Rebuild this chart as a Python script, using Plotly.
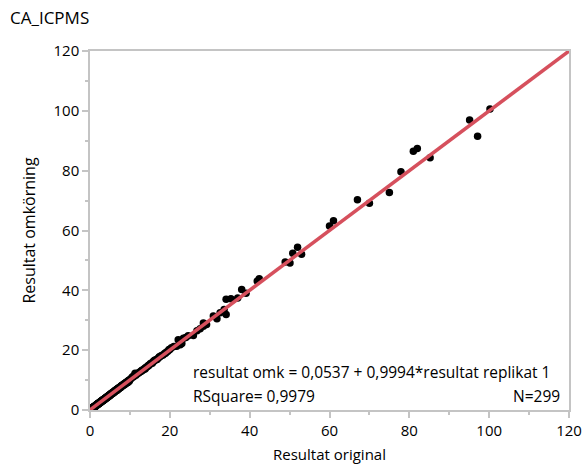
import plotly.graph_objects as go

# Original vs re-run results (CA, ICP-MS)
orig_low = [
    0.2, 0.25, 0.3, 0.3, 0.35, 0.4, 0.4, 0.45, 0.5, 0.5,
    0.55, 0.6, 0.6, 0.65, 0.7, 0.7, 0.75, 0.8, 0.8, 0.85,
    0.9, 0.9, 0.95, 1.0, 1.0, 1.05, 1.1, 1.1, 1.15, 1.2,
    1.2, 1.25, 1.3, 1.3, 1.35, 1.4, 1.4, 1.45, 1.5, 1.5,
    1.55, 1.6, 1.6, 1.65, 1.7, 1.7, 1.75, 1.8, 1.8, 1.85,
    1.9, 1.9, 1.95, 2.0, 2.0, 0.15, 0.5, 1.0, 1.5, 1.95,
    0.6, 1.3, 1.7, 2.0,
]
omk_low = [
    0.3, 0.2, 0.4, 0.25, 0.35, 0.5, 0.35, 0.4, 0.6, 0.45,
    0.5, 0.7, 0.55, 0.6, 0.8, 0.65, 0.7, 0.9, 0.75, 0.8,
    1.0, 0.85, 0.9, 1.1, 0.95, 1.0, 1.2, 1.05, 1.1, 1.3,
    1.15, 1.2, 1.4, 1.25, 1.3, 1.5, 1.35, 1.4, 1.6, 1.45,
    1.5, 1.7, 1.55, 1.6, 1.8, 1.65, 1.7, 1.9, 1.75, 1.8,
    2.0, 1.85, 1.9, 2.1, 1.95, 0.1, 0.6, 1.2, 1.3, 2.1,
    0.5, 1.2, 1.9, 2.2,
]

orig_mid = [
    2.1, 2.2, 2.3, 2.4, 2.5, 2.6, 2.7, 2.8, 2.9, 3.0,
    3.1, 3.2, 3.3, 3.4, 3.5, 3.6, 3.7, 3.8, 3.9, 4.0,
    4.1, 4.2, 4.3, 4.4, 4.5, 4.6, 4.7, 4.8, 4.9, 5.0,
    2.1, 2.2, 2.3, 2.4, 2.5, 2.6, 2.7, 2.8, 2.9, 3.0,
    3.1, 3.2, 3.3, 3.4, 3.5, 3.6, 3.7, 3.8, 3.9, 4.0,
    4.1, 4.2, 4.3, 4.4, 4.5, 4.6, 4.7, 4.8, 4.9, 5.0,
    2.15, 2.35, 2.55, 2.75, 2.95, 3.15, 3.35, 3.55, 3.75, 3.95,
    4.15, 4.35, 4.55, 4.75, 4.95, 2.45, 3.05, 3.65, 4.25, 4.85,
    5.1, 5.2, 5.3, 5.4, 5.5, 5.6, 5.7, 5.8, 5.9, 6.0,
    6.1, 6.2, 6.3, 6.4, 6.5, 6.6, 6.7, 6.8, 6.9, 7.0,
    7.1, 7.2, 7.3, 7.4, 7.5, 7.6, 7.7, 7.8, 7.9, 8.0,
    8.2, 8.4, 8.6, 8.8, 9.0, 9.2, 9.4, 9.6, 9.8, 10.0,
    5.25, 5.5, 5.75, 6.0, 6.25, 6.5, 6.75, 7.0, 7.25, 7.5,
    7.75, 8.0, 8.3, 8.6, 8.9, 9.2, 9.5, 9.8, 5.4, 6.3,
    7.1, 7.9, 8.5, 9.1, 9.7, 5.9, 6.8, 7.6, 8.1, 9.4,
]
omk_mid = [
    2.2, 2.3, 2.4, 2.6, 2.6, 2.7, 2.8, 3.0, 3.0, 3.1,
    3.2, 3.4, 3.4, 3.5, 3.6, 3.8, 3.8, 3.9, 4.0, 4.2,
    4.2, 4.3, 4.4, 4.6, 4.6, 4.7, 4.8, 5.0, 5.0, 5.1,
    2.0, 2.1, 2.2, 2.3, 2.4, 2.5, 2.6, 2.7, 2.8, 2.9,
    3.0, 3.1, 3.2, 3.3, 3.4, 3.5, 3.6, 3.7, 3.8, 3.9,
    4.0, 4.1, 4.2, 4.3, 4.4, 4.5, 4.6, 4.7, 4.8, 4.9,
    2.2, 2.4, 2.6, 2.8, 3.0, 3.2, 3.4, 3.6, 3.8, 4.0,
    4.2, 4.4, 4.6, 4.8, 5.0, 2.4, 3.1, 3.6, 4.3, 4.8,
    5.2, 5.4, 5.3, 5.5, 5.7, 5.6, 5.8, 6.0, 5.9, 6.1,
    6.3, 6.2, 6.4, 6.6, 6.5, 6.7, 6.9, 6.8, 7.0, 7.2,
    7.1, 7.3, 7.5, 7.4, 7.6, 7.8, 7.7, 7.9, 8.1, 8.0,
    8.3, 8.6, 8.5, 8.9, 9.2, 9.1, 9.5, 9.8, 9.7, 10.2,
    5.1, 5.4, 5.6, 5.9, 6.1, 6.4, 6.6, 6.9, 7.1, 7.4,
    7.6, 7.9, 8.2, 8.4, 8.8, 9.0, 9.3, 9.6, 5.6, 6.5,
    7.3, 8.1, 8.7, 9.3, 9.9, 5.8, 6.6, 7.5, 8.3, 9.2,
]

orig_upper = [
    10.3, 10.6, 10.9, 11.2, 11.3, 11.5, 11.8, 12.1, 12.4, 12.7,
    13.0, 13.3, 13.6, 13.9, 14.2, 14.5, 14.8, 15.1, 15.4, 15.6,
    15.9, 16.2, 16.5, 16.8, 17.1, 17.5, 17.9, 18.3, 18.7, 19.1,
    19.5, 19.8, 10.8, 11.6, 12.9, 13.8, 14.6, 16.0, 17.4, 18.9,
    20.0, 20.4, 21.0, 21.7, 22.1, 22.6, 23.0, 23.4, 24.0, 24.6,
    25.9, 26.8, 27.6, 28.4, 29.2, 28.4, 30.9, 31.8, 32.6, 33.6,
    34.1, 34.1, 35.3, 37.0, 38.0, 39.1, 41.9, 42.4, 48.9, 50.1,
    50.8, 52.0, 53.0, 60.0, 61.0, 67.0, 70.0, 75.0, 77.9, 81.0,
    82.0, 85.2, 95.1, 97.1, 100.2,
]
omk_upper = [
    10.5, 11.0, 11.1, 11.8, 12.3, 11.6, 12.2, 12.3, 12.6, 12.9,
    13.3, 13.4, 13.8, 14.1, 14.4, 14.6, 15.0, 15.5, 15.7, 15.6,
    16.2, 16.6, 16.8, 16.9, 17.4, 17.8, 18.2, 18.4, 18.9, 19.3,
    19.6, 20.2, 11.2, 12.0, 13.0, 13.7, 14.9, 16.4, 17.8, 19.0,
    20.2, 20.8, 21.2, 21.3, 23.5, 21.8, 22.2, 24.0, 24.2, 24.8,
    24.9, 26.5, 27.2, 29.1, 28.6, 28.0, 31.4, 30.5, 32.5, 33.6,
    31.9, 37.0, 37.2, 37.4, 40.3, 39.0, 43.1, 43.9, 49.5, 49.1,
    52.4, 54.4, 52.1, 61.5, 63.3, 70.3, 69.1, 72.7, 79.6, 86.5,
    87.4, 84.3, 96.9, 91.5, 100.6,
]

resultat_original = orig_low + orig_mid + orig_upper
resultat_omk = omk_low + omk_mid + omk_upper

# Linear fit reported for the data
intercept = 0.0537
slope = 0.9994
r_square = 0.9979
fit_x = [0, 120]
fit_y = [intercept + slope * v for v in fit_x]

x_ticks = [0, 20, 40, 60, 80, 100, 120]
y_ticks = [0, 20, 40, 60, 80, 100, 120]

FONT = "Open Sans"
AXIS_GRAY = "#c4c4c4"

fig = go.Figure()
fig.add_trace(go.Scatter(
    x=resultat_original, y=resultat_omk, mode="markers",
    marker=dict(color="black", size=7.5, line=dict(width=0)),
    showlegend=False,
))
fig.add_trace(go.Scatter(
    x=fit_x, y=fit_y, mode="lines",
    line=dict(color="#D6505D", width=3.5),
    showlegend=False,
))

def fmt(v, nd):
    return f"{v:.{nd}f}".replace(".", ",")

eq_text = f"resultat omk = {fmt(intercept, 4)} + {fmt(slope, 4)}*resultat replikat 1"
ann_font = dict(family=FONT, size=15.5, color="black")
fig.add_annotation(text=eq_text, xref="paper", yref="paper", x=0.211, y=0.106,
                   xanchor="left", yanchor="middle", showarrow=False, font=ann_font)
fig.add_annotation(text=f"RSquare= {fmt(r_square, 4)}", xref="paper", yref="paper",
                   x=0.211, y=0.039, xanchor="left", yanchor="middle", showarrow=False,
                   font=ann_font)
fig.add_annotation(text=f"N={len(resultat_original)}", xref="paper", yref="paper",
                   x=0.986, y=0.039, xanchor="right", yanchor="middle", showarrow=False,
                   font=ann_font)

axis_common = dict(
    range=[0, 120], showgrid=False, zeroline=False, automargin=False,
    showline=True, linecolor=AXIS_GRAY, linewidth=1.5, mirror=True,
    ticks="outside", ticklen=6, tickwidth=1.5, tickcolor=AXIS_GRAY,
    minor=dict(dtick=10, ticks="outside", ticklen=3, tickwidth=1.5, tickcolor=AXIS_GRAY),
    tickfont=dict(family=FONT, size=15, color="black"),
)

fig.update_layout(
    width=586, height=468,
    margin=dict(l=90, r=17, t=51, b=58),
    paper_bgcolor="white", plot_bgcolor="white",
    title=dict(text="CA_ICPMS", x=10 / 586, xref="container", xanchor="left",
               y=1 - 18 / 468, yref="container", yanchor="middle",
               font=dict(family=FONT, size=17, color="black")),
    xaxis=dict(**axis_common, tickvals=x_ticks,
               title=dict(text="Resultat original", standoff=11,
                          font=dict(family=FONT, size=15, color="black"))),
    yaxis=dict(**axis_common, tickvals=y_ticks,
               title=dict(text="Resultat omkörning", standoff=14,
                          font=dict(family=FONT, size=16, color="black"))),
)

fig.write_html("out.html")
